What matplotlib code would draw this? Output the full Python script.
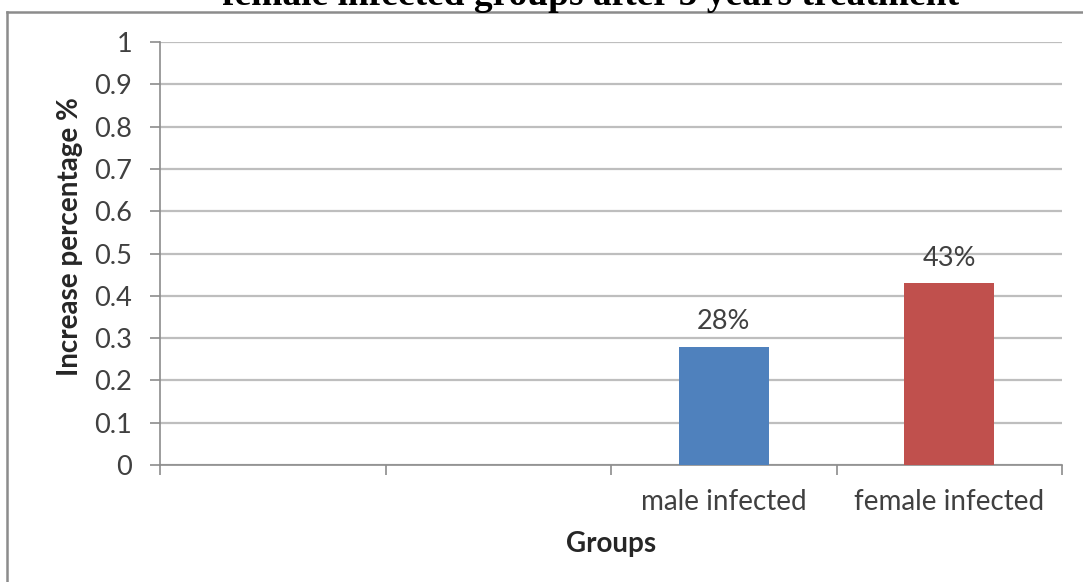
import matplotlib
matplotlib.use("Agg")
import matplotlib.pyplot as plt
from matplotlib.lines import Line2D
import numpy as np

# Chart data
groups = ["", "", "male infected", "female infected"]
increase = [np.nan, np.nan, 0.28, 0.43]
bar_colors = ["#4F81BD", "#4F81BD", "#4F81BD", "#C0504D"]
value_labels = ["", "", "28%", "43%"]
y_ticks = [0, 0.1, 0.2, 0.3, 0.4, 0.5, 0.6, 0.7, 0.8, 0.9, 1]
y_tick_labels = ["0", "0.1", "0.2", "0.3", "0.4", "0.5", "0.6", "0.7", "0.8", "0.9", "1"]

W, H = 1083, 582
fig = plt.figure(figsize=(W / 100, H / 100), dpi=100)
fig.patch.set_facecolor("white")

# outer chart frame: left and top edges (the rest runs off the canvas)
frame_x, frame_y = 7 / W, 1 - 12 / H
fig.add_artist(Line2D([frame_x, frame_x], [-0.05, frame_y], transform=fig.transFigure,
                      color="#8C8C8C", linewidth=1.8, solid_capstyle="projecting"))
fig.add_artist(Line2D([frame_x, 1.05], [frame_y, frame_y], transform=fig.transFigure,
                      color="#8C8C8C", linewidth=1.8, solid_capstyle="projecting"))

# title line (upper part clipped by the figure edge)
fig.text(591 / W, 1 - 5 / H, "female infected groups after 5 years treatment",
         ha="center", va="baseline", family="Liberation Serif",
         fontweight="bold", fontsize=27, color="black")

ax = fig.add_axes([160 / W, 1 - 465 / H, (1062 - 160) / W, (465 - 42) / H])
x = np.arange(len(groups))
bars = ax.bar(x, np.nan_to_num(increase), width=0.4, color=bar_colors, zorder=3)

ax.set_xlim(-0.5, len(groups) - 0.5)
ax.set_ylim(0, 1)
ax.set_yticks(y_ticks)
ax.set_yticklabels(y_tick_labels)
ax.set_xticks(x)
ax.set_xticklabels(groups)
ax.set_xticks(np.arange(-0.5, len(groups), 1), minor=True)

font = "Lato"
for lab in ax.get_yticklabels():
    lab.set_family(font)
    lab.set_fontsize(19.5)
    lab.set_color("#404040")
for lab in ax.get_xticklabels():
    lab.set_family(font)
    lab.set_fontsize(20)
    lab.set_color("#404040")

ax.tick_params(axis="y", which="major", length=7, width=1.2, color="#8C8C8C", pad=13)
ax.tick_params(axis="x", which="major", length=0, pad=17)
ax.tick_params(axis="x", which="minor", length=7, width=1.2, color="#8C8C8C")

ax.yaxis.grid(True, color="#BEBEBE", linewidth=1.6, zorder=0)
ax.set_axisbelow(True)
for side in ("top", "right"):
    ax.spines[side].set_visible(False)
for side in ("left", "bottom"):
    ax.spines[side].set_color("#8C8C8C")
    ax.spines[side].set_linewidth(1.2)

for xi, v, lab in zip(x, increase, value_labels):
    if lab:
        ax.annotate(lab, (xi, v), xytext=(0, 9), textcoords="offset points",
                    ha="center", va="bottom", family=font, fontsize=19.5,
                    color="#404040")

ax.set_xlabel("Groups", family=font, fontweight="bold", fontsize=20,
              color="#262626", labelpad=12)
ax.set_ylabel("Increase percentage %", family=font, fontweight="bold",
              fontsize=20, color="#262626")
ax.yaxis.label.set_va("center")
ax.yaxis.set_label_coords((70 - 160) / 902, (465 - 237) / 423)

fig.savefig("out.png", dpi=100)
